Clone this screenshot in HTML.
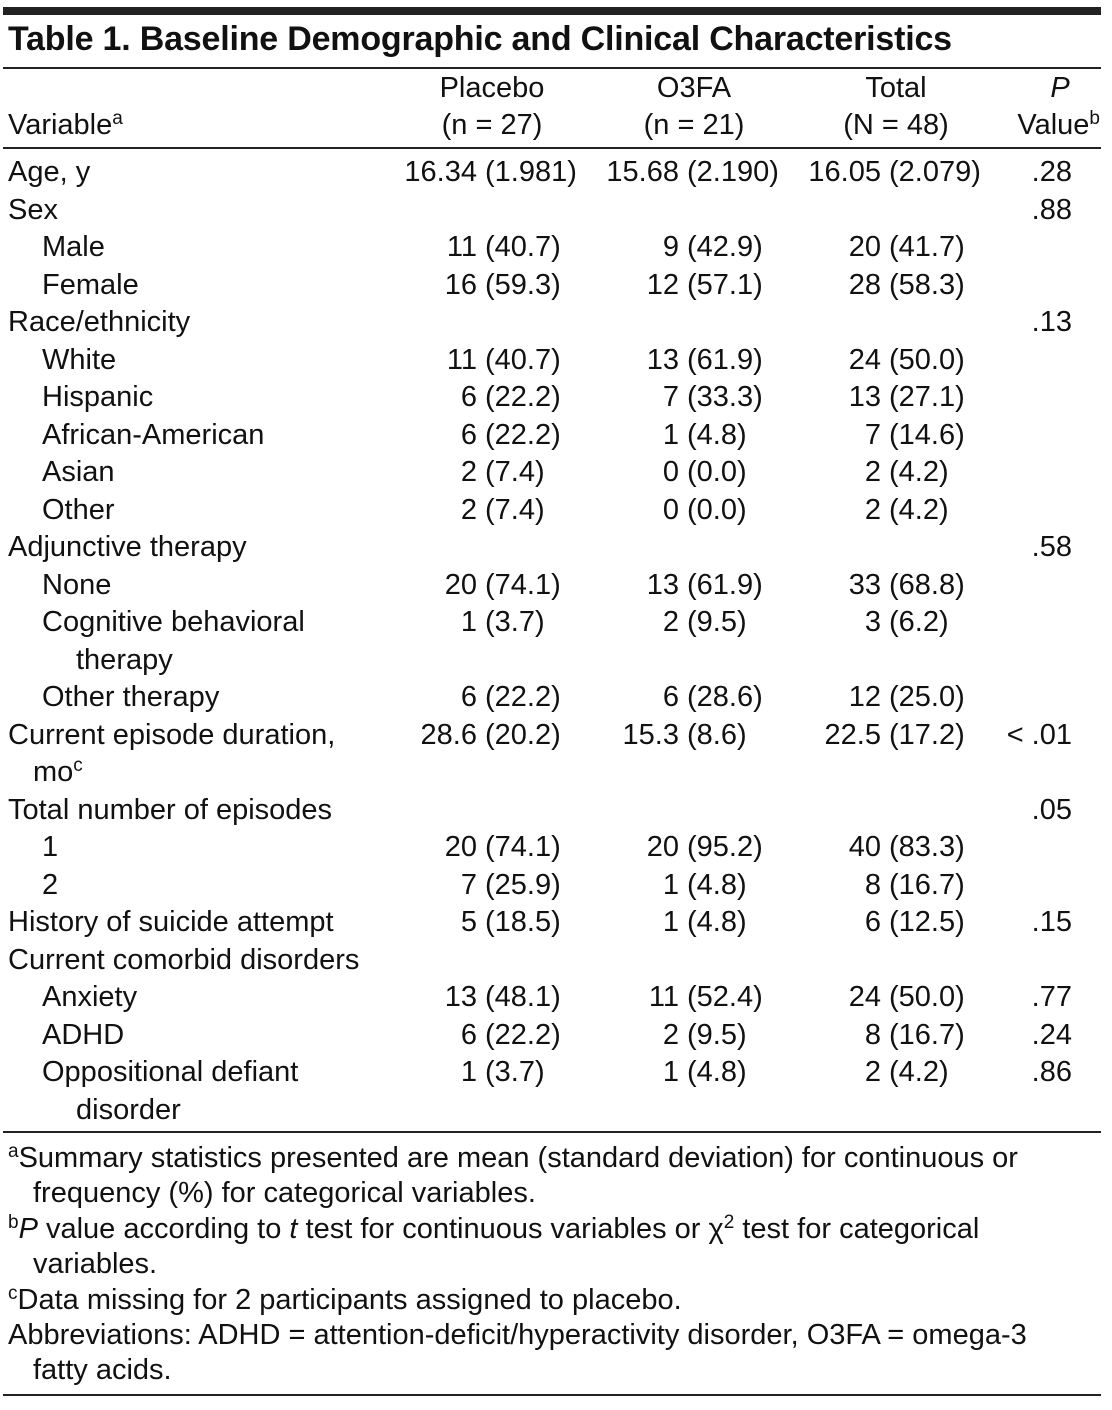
<!DOCTYPE html>
<html><head><meta charset="utf-8">
<style>
html,body{margin:0;padding:0;background:#fff;}
body{width:1112px;height:1410px;position:relative;overflow:hidden;font-family:"Liberation Sans",sans-serif;color:#111;}
.t{position:absolute;font-size:29px;line-height:34px;white-space:nowrap;}
.r{text-align:right;}
.c{text-align:center;}
.line{position:absolute;left:3px;width:1098px;background:#222;}
sup{font-size:19px;line-height:0;vertical-align:10px;}
</style></head><body>
<div class="line" style="top:7px;height:8px;"></div>
<div class="t" style="left:8px;top:22px;font-size:34px;font-weight:bold;letter-spacing:-0.2px;">Table 1. Baseline Demographic and Clinical Characteristics</div>
<div class="line" style="top:67px;height:2px;"></div>
<div class="t" style="left:8px;top:108px;">Variable<sup>a</sup></div>
<div class="t c" style="left:392px;width:200px;top:71px;">Placebo</div>
<div class="t c" style="left:392px;width:200px;top:108px;">(n = 27)</div>
<div class="t c" style="left:594px;width:200px;top:71px;">O3FA</div>
<div class="t c" style="left:594px;width:200px;top:108px;">(n = 21)</div>
<div class="t c" style="left:796px;width:200px;top:71px;">Total</div>
<div class="t c" style="left:796px;width:200px;top:108px;">(N = 48)</div>
<div class="t c" style="left:1020px;width:80px;top:71px;font-style:italic;">P</div>
<div class="t r" style="left:980px;width:120px;top:108px;">Value<sup>b</sup></div>
<div class="line" style="top:147px;height:2px;"></div>
<div id="rows"></div>
<div class="line" style="top:1131px;height:2px;"></div>
<div class="t" style="left:8px;top:1141px;"><sup>a</sup>Summary statistics presented are mean (standard deviation) for continuous or</div>
<div class="t" style="left:33px;top:1176px;">frequency (%) for categorical variables.</div>
<div class="t" style="left:8px;top:1212px;"><sup>b</sup><i>P</i> value according to <i>t</i> test for continuous variables or χ<sup>2</sup> test for categorical</div>
<div class="t" style="left:33px;top:1247px;">variables.</div>
<div class="t" style="left:8px;top:1283px;"><sup>c</sup>Data missing for 2 participants assigned to placebo.</div>
<div class="t" style="left:8px;top:1318px;">Abbreviations: ADHD = attention-deficit/hyperactivity disorder, O3FA = omega-3</div>
<div class="t" style="left:33px;top:1353px;">fatty acids.</div>
<div class="line" style="top:1394px;height:2px;"></div>
<script>
const labels=["Age, y","Sex","Male","Female","Race/ethnicity","White","Hispanic","African-American","Asian","Other","Adjunctive therapy","None","Cognitive behavioral","therapy","Other therapy","Current episode duration,","mo<sup>c</sup>","Total number of episodes","1","2","History of suicide attempt","Current comorbid disorders","Anxiety","ADHD","Oppositional defiant","disorder"];
const indents=[0,0,1,1,0,1,1,1,1,1,0,1,1,2,1,0,3,0,1,1,0,0,1,1,1,2];
const placebo=["16.34|(1.981)","","11|(40.7)","16|(59.3)","","11|(40.7)","6|(22.2)","6|(22.2)","2|(7.4)","2|(7.4)","","20|(74.1)","1|(3.7)","","6|(22.2)","28.6|(20.2)","","","20|(74.1)","7|(25.9)","5|(18.5)","","13|(48.1)","6|(22.2)","1|(3.7)",""];
const o3fa=["15.68|(2.190)","","9|(42.9)","12|(57.1)","","13|(61.9)","7|(33.3)","1|(4.8)","0|(0.0)","0|(0.0)","","13|(61.9)","2|(9.5)","","6|(28.6)","15.3|(8.6)","","","20|(95.2)","1|(4.8)","1|(4.8)","","11|(52.4)","2|(9.5)","1|(4.8)",""];
const total=["16.05|(2.079)","","20|(41.7)","28|(58.3)","","24|(50.0)","13|(27.1)","7|(14.6)","2|(4.2)","2|(4.2)","","33|(68.8)","3|(6.2)","","12|(25.0)","22.5|(17.2)","","","40|(83.3)","8|(16.7)","6|(12.5)","","24|(50.0)","8|(16.7)","2|(4.2)",""];
const pvals=[".28",".88","","",".13","","","","","",".58","","","","","< .01","",".05","","",".15","",".77",".24",".86",""];
const root=document.getElementById('rows');
const indentPx=[8,42,76,33];
function mk(cls,left,top,html,w){const d=document.createElement('div');d.className='t '+cls;d.style.left=left+'px';d.style.top=top+'px';if(w)d.style.width=w+'px';d.innerHTML=html;root.appendChild(d);return d;}
const colSplit=[477,679,881];
for(let i=0;i<labels.length;i++){
  const top=155+i*37.5;
  const lab=mk('',indentPx[indents[i]],top,labels[i]);
  
  
  [placebo,o3fa,total].forEach((arr,k)=>{
    if(!arr[i])return;
    const [a,b]=arr[i].split('|');
    const n=mk('r',colSplit[k]-120,top,a,120);
    
    
    const p=mk('',colSplit[k]+8,top,b);
    
    
  });
  if(pvals[i]){
    const pv=mk('r',972,top,pvals[i],100);
    
    
  }
}
</script>
</body></html>
